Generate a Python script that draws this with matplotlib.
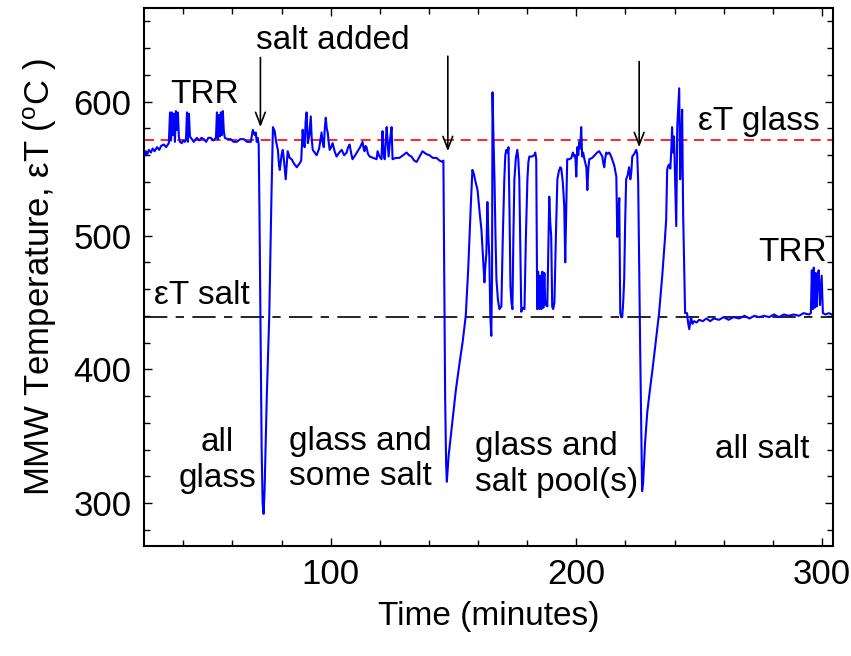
import matplotlib
matplotlib.use("Agg")
import matplotlib.pyplot as plt
from matplotlib.ticker import MultipleLocator

plt.rcParams['font.family'] = ['Liberation Sans', 'DejaVu Sans']
plt.rcParams['mathtext.default'] = 'regular'

# MMW temperature trace as (minutes, deg C)
all_glass = [
    (24.0, 559), (24.8, 563), (25.2, 560), (26.0, 564), (26.8, 562), (27.5, 565),
    (28.3, 563), (29.3, 566), (30.2, 564), (31.0, 567), (32.1, 568), (33.0, 566),
    (34.1, 569), (34.6, 592), (35.0, 571), (35.4, 592), (35.8, 575), (36.2, 591),
    (36.6, 570), (37.0, 593), (37.4, 579), (37.8, 592), (38.2, 574), (38.6, 570),
    (39.4, 569), (40.0, 571), (40.7, 570), (41.1, 572), (41.5, 592), (41.9, 570),
    (42.3, 591), (42.7, 574), (43.1, 573), (44.3, 570), (45.5, 573), (46.5, 571),
    (47.4, 573), (48.4, 572), (49.3, 570), (50.2, 573), (51.2, 573), (52.2, 571),
    (53.3, 573), (53.7, 592), (54.1, 572), (54.5, 590), (54.9, 574), (55.3, 592),
    (55.7, 575), (56.1, 593), (56.5, 578), (56.9, 573), (58.0, 572), (59.3, 572),
    (60.5, 570), (61.8, 570), (63.2, 572), (64.6, 572), (66.0, 570), (67.5, 570),
    (68.3, 579), (69.1, 575), (69.5, 577), (69.9, 570), (70.3, 573), (70.7, 568),
]
first_dip = [
    (71.0, 520), (71.4, 440), (71.9, 340), (72.3, 300), (72.7, 292), (73.1, 310),
    (74.0, 380), (75.0, 440), (75.9, 530), (76.5, 581),
]
some_salt = [
    (77.2, 578), (77.8, 570), (78.5, 564), (79.0, 552), (79.3, 549), (80.0, 560),
    (80.5, 564), (81.0, 556), (81.7, 542), (82.1, 553), (82.5, 563), (83.3, 558),
    (84.1, 557), (85.0, 554), (86.2, 551), (87.4, 554), (88.0, 556), (88.6, 579),
    (89.0, 570), (89.4, 566), (89.8, 585), (90.2, 592), (90.7, 569), (91.3, 575),
    (91.9, 589), (92.3, 572), (92.7, 564), (93.5, 562), (94.3, 560), (95.3, 565),
    (96.3, 577), (96.7, 570), (97.2, 566), (97.6, 580), (98.0, 588), (98.4, 580),
    (98.8, 577), (99.2, 570), (99.6, 564), (100.2, 566), (100.8, 569), (101.6, 563),
    (102.4, 559), (103.5, 562), (104.5, 564), (105.5, 560), (106.5, 562), (107.1, 566),
    (107.7, 568), (108.3, 562), (108.9, 557), (110.0, 560), (111.0, 563), (112.0, 566),
    (113.0, 570), (113.4, 565), (113.8, 563), (114.2, 567), (114.6, 566), (115.2, 561),
    (115.9, 559), (117.3, 558), (118.7, 557), (119.1, 563), (119.9, 559), (120.7, 557),
    (121.1, 578), (121.5, 562), (122.0, 557), (122.4, 570), (122.8, 581), (123.2, 570),
    (123.6, 559), (124.2, 572), (124.8, 581), (125.2, 557), (126.5, 558), (128.0, 558),
    (129.5, 560), (130.9, 562), (131.9, 560), (132.9, 559), (134.0, 556), (135.0, 555),
    (136.2, 559), (137.4, 563), (138.8, 561), (140.2, 560), (141.6, 558), (143.1, 558),
    (144.3, 556), (145.5, 555), (145.9, 556),
]
salt_pools = [
    (146.2, 480), (146.6, 380), (147.0, 330), (147.3, 316), (148.0, 335), (149.5, 360),
    (151.0, 385), (152.5, 405), (153.7, 420), (155.0, 440), (156.0, 475), (157.0, 520),
    (157.7, 549), (158.3, 546), (159.0, 540), (159.8, 534), (160.5, 520), (161.4, 504),
    (162.0, 485), (162.6, 465), (163.0, 478), (163.4, 487), (163.8, 525), (164.2, 500),
    (164.6, 484), (165.0, 440), (165.4, 425), (165.7, 470), (165.9, 607), (166.2, 580),
    (166.7, 542), (167.1, 500), (167.5, 467), (168.1, 452), (168.7, 445), (169.5, 447),
    (170.1, 500), (170.7, 542), (171.1, 560), (171.5, 564), (172.0, 562), (172.4, 566),
    (172.8, 520), (173.2, 462), (173.6, 450), (174.0, 445), (174.4, 500), (174.8, 542),
    (175.4, 558), (176.0, 564), (176.4, 557), (176.8, 542), (177.2, 490), (177.6, 443),
    (178.2, 446), (178.9, 445), (179.5, 500), (180.1, 542), (180.5, 555), (180.9, 559),
    (181.9, 559), (182.9, 560), (183.3, 562), (183.7, 557), (184.1, 445), (184.5, 473),
    (185.0, 445), (185.4, 470), (185.8, 445), (186.2, 473), (186.6, 446), (187.0, 472),
    (187.4, 448), (187.8, 450), (188.2, 447), (188.6, 490), (189.0, 529), (189.4, 510),
    (189.8, 499), (190.2, 447), (190.6, 445), (191.1, 450), (191.7, 500), (192.3, 542),
    (192.9, 548), (193.5, 551), (193.9, 550), (194.5, 540), (195.1, 522), (195.5, 480),
    (195.9, 520), (196.3, 557), (197.2, 557), (198.0, 558), (198.6, 562), (199.2, 559),
    (199.6, 560), (200.0, 544), (200.4, 566), (200.8, 560), (201.2, 570), (201.6, 565),
    (202.0, 581), (202.4, 559), (202.8, 562), (203.3, 557), (204.1, 551), (204.5, 534),
    (204.9, 550), (205.3, 557), (206.5, 558), (207.5, 560), (208.5, 562), (209.3, 563),
    (210.0, 561), (210.6, 559), (211.0, 554), (211.4, 551), (211.8, 558), (212.2, 562),
    (212.8, 561), (213.4, 562), (214.0, 560), (214.6, 557), (215.5, 552), (216.3, 544),
    (216.7, 499), (217.1, 515), (217.5, 528), (217.9, 442), (218.3, 439), (218.7, 439),
    (219.1, 450), (219.5, 467), (219.9, 510), (220.3, 542), (220.9, 545), (221.5, 551),
    (222.0, 542), (222.4, 547), (222.8, 559), (223.6, 561), (224.4, 564), (224.8, 561),
]
third_dip = [
    (225.2, 540), (225.6, 477), (226.0, 417), (226.4, 360), (226.8, 309), (227.2, 315),
    (228.0, 345), (228.9, 368), (230.0, 385), (230.9, 398), (232.0, 415), (233.7, 442),
    (235.0, 470), (236.0, 495), (236.6, 512), (237.0, 549), (237.4, 552), (237.8, 553),
    (238.3, 550), (238.7, 565), (239.0, 581), (239.4, 562), (239.8, 574), (240.2, 545),
    (240.7, 507), (241.1, 581), (241.5, 595), (241.9, 610), (242.3, 542), (242.7, 570),
    (243.1, 594), (243.5, 517), (243.9, 480), (244.3, 442), (245.1, 442), (245.5, 435),
]
all_salt = [
    (246.0, 430), (246.7, 439), (247.3, 434), (248.0, 436), (249.0, 435), (250.0, 437),
    (251.5, 436), (253.0, 438), (254.5, 436), (256.0, 438), (258.1, 437), (260.0, 439),
    (262.0, 437), (264.0, 439), (266.3, 438), (268.5, 440), (270.5, 438), (272.5, 440),
    (274.4, 439), (276.5, 440), (278.5, 439), (280.5, 441), (282.5, 439), (284.5, 441),
    (286.5, 440), (288.5, 441), (290.7, 440), (292.5, 442), (294.7, 441), (295.5, 442),
    (295.9, 474), (296.3, 445), (296.7, 476), (297.1, 446), (297.5, 472), (297.9, 447),
    (298.3, 470), (298.7, 474), (299.2, 448), (299.9, 470), (300.4, 442), (301.5, 441),
    (302.8, 442), (304.0, 441),
]

eT_glass = 571
eT_salt = 439
arrow_times = [71.4, 147.7, 225.6]
arrow_tops = [633, 634, 630]
arrow_tips = [581, 563, 566]

trace = all_glass + first_dip + some_salt + salt_pools + third_dip + all_salt
t = [p[0] for p in trace]
temp = [p[1] for p in trace]

fig = plt.figure(figsize=(8.51, 6.56), dpi=100)
ax = fig.add_axes([0.1692, 0.1677, 0.8096, 0.8201])

ax.axhline(eT_glass, color='red', lw=1.2, dashes=(6, 4))
ax.axhline(eT_salt, color='black', lw=1.2, dashes=(14, 5, 5, 5))
ax.plot(t, temp, color='#0000ff', lw=1.5)

for x, y0, y1 in zip(arrow_times, arrow_tops, arrow_tips):
    ax.annotate('', xy=(x, y1), xytext=(x, y0),
                arrowprops=dict(arrowstyle='->,head_length=0.9,head_width=0.35',
                                color='black', lw=1.2, shrinkA=0, shrinkB=0))

fs = 24
ax.text(101, 639, 'salt added', ha='center', va='baseline', fontsize=fs)
ax.text(48.8, 599, 'TRR', ha='center', va='baseline', fontsize=fs)
ax.text(288.2, 481, 'TRR', ha='center', va='baseline', fontsize=fs)
ax.text(274.4, 579, '\u03b5T glass', ha='center', va='baseline', fontsize=fs)
ax.text(47.6, 448.5, '\u03b5T salt', ha='center', va='baseline', fontsize=fs)
ax.text(54, 332, 'all\nglass', ha='center', va='center', fontsize=fs)
ax.text(112, 333, 'glass and\nsome salt', ha='center', va='center', fontsize=fs)
ax.text(192, 329, 'glass and\nsalt pool(s)', ha='center', va='center',
        multialignment='left', fontsize=fs)
ax.text(275.6, 340, 'all salt', ha='center', va='center', fontsize=fs)

ax.set_xlim(24, 304.5)
ax.set_ylim(268, 670)
ax.xaxis.set_major_locator(MultipleLocator(100))
ax.xaxis.set_minor_locator(MultipleLocator(20))
ax.yaxis.set_major_locator(MultipleLocator(100))
ax.yaxis.set_minor_locator(MultipleLocator(20))
ax.tick_params(which='both', direction='in', top=True, right=True, width=1)
ax.tick_params(which='major', length=6, labelsize=25, pad=9)
ax.tick_params(which='minor', length=4)
for s in ax.spines.values():
    s.set_linewidth(1.5)

ax.set_xlabel('Time (minutes)', fontsize=24, labelpad=7)
ax.set_ylabel('MMW Temperature, \u03b5T ($^{o}$C )', fontsize=25, labelpad=10)

fig.savefig('out.png', dpi=100)
